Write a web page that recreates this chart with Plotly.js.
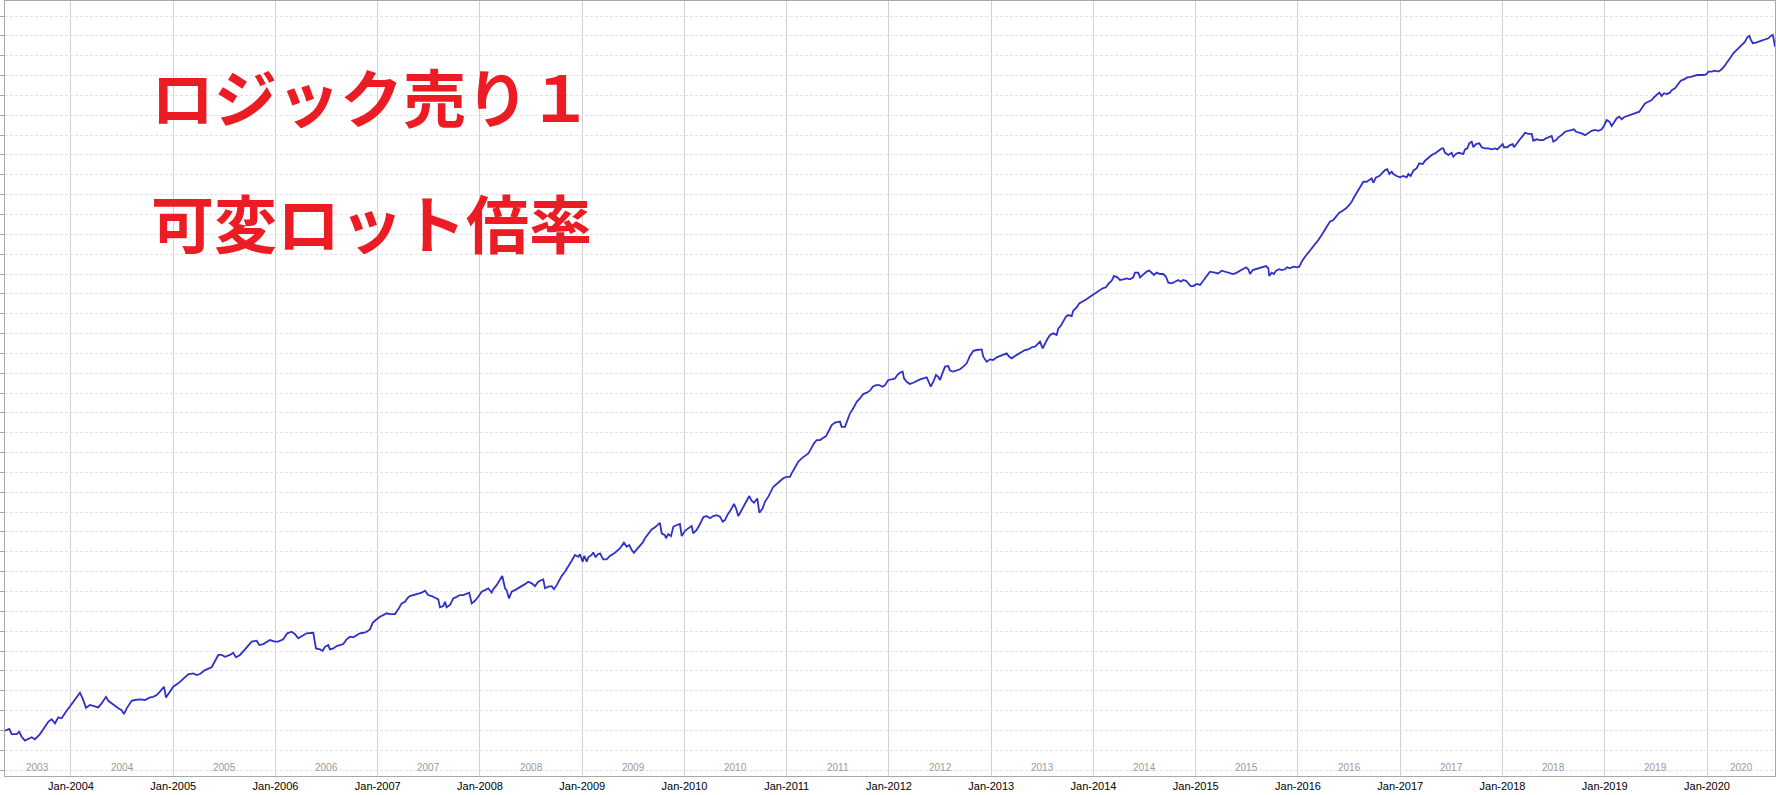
<!DOCTYPE html>
<html>
<head>
<meta charset="utf-8">
<script src="https://cdn.plot.ly/plotly-3.0.1.min.js"></script>
<style>
html,body{margin:0;padding:0;background:#fff;}
#chart{width:1776px;height:795px;}
</style>
</head>
<body>
<div id="chart"></div>
<script>
// Time in decimal years
const t = [
2003.354,2003.397,2003.420,2003.469,2003.494,2003.518,2003.550,2003.582,2003.616,2003.648,
2003.697,2003.746,2003.778,2003.811,2003.844,2003.876,2003.909,2003.941,2003.990,2004.039,
2004.088,2004.114,2004.147,2004.186,2004.235,2004.267,2004.300,2004.342,2004.365,2004.398,
2004.430,2004.463,2004.496,2004.518,2004.545,2004.594,2004.626,2004.675,2004.724,2004.773,
2004.805,2004.838,2004.870,2004.910,2004.929,2004.968,2005.000,2005.049,2005.098,2005.147,
2005.196,2005.229,2005.262,2005.311,2005.376,2005.408,2005.441,2005.474,2005.506,2005.555,
2005.587,2005.614,2005.653,2005.702,2005.744,2005.767,2005.816,2005.842,2005.881,2005.914,
2005.946,2005.995,2006.027,2006.076,2006.115,2006.158,2006.191,2006.223,2006.240,2006.272,
2006.305,2006.370,2006.386,2006.396,2006.435,2006.462,2006.484,2006.516,2006.533,2006.565,
2006.599,2006.631,2006.663,2006.696,2006.729,2006.761,2006.794,2006.826,2006.859,2006.892,
2006.924,2006.951,2006.990,2007.022,2007.054,2007.088,2007.120,2007.169,2007.201,2007.234,
2007.267,2007.289,2007.315,2007.348,2007.397,2007.430,2007.462,2007.494,2007.528,2007.560,
2007.592,2007.609,2007.641,2007.658,2007.674,2007.707,2007.739,2007.772,2007.804,2007.837,
2007.870,2007.895,2007.919,2007.951,2007.983,2008.017,2008.049,2008.081,2008.114,2008.130,
2008.163,2008.196,2008.218,2008.245,2008.261,2008.284,2008.310,2008.342,2008.375,2008.408,
2008.440,2008.472,2008.506,2008.538,2008.570,2008.603,2008.619,2008.636,2008.668,2008.701,
2008.724,2008.750,2008.766,2008.799,2008.831,2008.864,2008.897,2008.929,2008.961,2008.978,
2009.004,2009.020,2009.044,2009.059,2009.092,2009.108,2009.132,2009.151,2009.174,2009.206,
2009.239,2009.271,2009.320,2009.369,2009.408,2009.435,2009.460,2009.484,2009.506,2009.533,
2009.558,2009.591,2009.614,2009.646,2009.679,2009.712,2009.734,2009.760,2009.777,2009.809,
2009.819,2009.842,2009.868,2009.891,2009.924,2009.956,2009.973,2010.005,2010.037,2010.070,
2010.086,2010.119,2010.152,2010.184,2010.217,2010.249,2010.282,2010.315,2010.347,2010.374,
2010.396,2010.419,2010.452,2010.484,2010.504,2010.526,2010.550,2010.575,2010.608,2010.634,
2010.657,2010.680,2010.712,2010.732,2010.765,2010.787,2010.820,2010.843,2010.869,2010.902,
2010.934,2010.966,2010.999,2011.032,2011.048,2011.081,2011.113,2011.146,2011.179,2011.211,
2011.234,2011.267,2011.293,2011.325,2011.352,2011.384,2011.416,2011.440,2011.472,2011.504,
2011.521,2011.537,2011.570,2011.592,2011.619,2011.651,2011.684,2011.716,2011.749,2011.782,
2011.814,2011.841,2011.873,2011.905,2011.938,2011.961,2011.993,2012.027,2012.059,2012.081,
2012.108,2012.134,2012.147,2012.173,2012.205,2012.238,2012.271,2012.303,2012.336,2012.369,
2012.384,2012.408,2012.433,2012.460,2012.482,2012.499,2012.525,2012.548,2012.580,2012.597,
2012.629,2012.662,2012.694,2012.727,2012.760,2012.792,2012.825,2012.858,2012.907,2012.922,
2012.956,2012.988,2013.020,2013.053,2013.086,2013.118,2013.151,2013.177,2013.200,2013.232,
2013.265,2013.298,2013.330,2013.362,2013.396,2013.428,2013.460,2013.477,2013.503,2013.526,
2013.548,2013.575,2013.607,2013.640,2013.656,2013.679,2013.705,2013.731,2013.754,2013.787,
2013.802,2013.836,2013.861,2013.894,2013.927,2013.959,2013.992,2014.025,2014.057,2014.090,
2014.122,2014.145,2014.178,2014.200,2014.233,2014.259,2014.292,2014.325,2014.357,2014.389,
2014.406,2014.438,2014.455,2014.487,2014.520,2014.546,2014.569,2014.592,2014.618,2014.650,
2014.682,2014.709,2014.732,2014.765,2014.797,2014.829,2014.853,2014.878,2014.905,2014.927,
2014.951,2014.976,2015.009,2015.042,2015.074,2015.107,2015.139,2015.188,2015.221,2015.254,
2015.286,2015.335,2015.367,2015.401,2015.433,2015.465,2015.492,2015.514,2015.531,2015.557,
2015.589,2015.622,2015.655,2015.687,2015.710,2015.719,2015.743,2015.765,2015.785,2015.817,
2015.841,2015.873,2015.895,2015.922,2015.954,2015.993,2016.013,2016.036,2016.069,2016.101,
2016.134,2016.166,2016.199,2016.232,2016.254,2016.281,2016.313,2016.345,2016.372,2016.404,
2016.437,2016.470,2016.502,2016.525,2016.548,2016.574,2016.606,2016.639,2016.672,2016.704,
2016.720,2016.736,2016.763,2016.795,2016.828,2016.851,2016.873,2016.893,2016.916,2016.932,
2016.965,2016.998,2017.030,2017.063,2017.079,2017.102,2017.128,2017.161,2017.186,2017.220,
2017.242,2017.275,2017.308,2017.340,2017.372,2017.405,2017.421,2017.438,2017.470,2017.503,
2017.519,2017.545,2017.568,2017.601,2017.617,2017.633,2017.656,2017.675,2017.699,2017.715,
2017.741,2017.773,2017.797,2017.829,2017.861,2017.894,2017.927,2017.949,2017.976,2018.002,
2018.015,2018.047,2018.073,2018.100,2018.113,2018.139,2018.171,2018.198,2018.220,2018.252,
2018.286,2018.301,2018.335,2018.367,2018.399,2018.426,2018.458,2018.481,2018.497,2018.523,
2018.546,2018.579,2018.611,2018.644,2018.677,2018.699,2018.719,2018.751,2018.775,2018.807,
2018.839,2018.872,2018.905,2018.937,2018.970,2018.992,2019.019,2019.045,2019.068,2019.090,
2019.117,2019.142,2019.166,2019.188,2019.221,2019.254,2019.279,2019.313,2019.338,2019.361,
2019.394,2019.426,2019.459,2019.482,2019.508,2019.534,2019.557,2019.580,2019.606,2019.638,
2019.655,2019.687,2019.719,2019.743,2019.775,2019.808,2019.841,2019.873,2019.905,2019.938,
2019.971,2019.997,2020.013,2020.046,2020.078,2020.111,2020.144,2020.166,2020.186,2020.208,
2020.232,2020.257,2020.284,2020.306,2020.339,2020.372,2020.394,2020.414,2020.427,2020.447,
2020.479,2020.512,2020.545,2020.577,2020.600,2020.623,2020.643,2020.655,2020.665
];
// Equity (arbitrary units, one unit per horizontal gridline)
const equity = [
1.98,2.07,1.81,1.81,1.93,1.68,1.48,1.55,1.65,1.55,
1.81,2.18,2.43,2.56,2.35,2.66,2.61,2.86,3.19,3.53,
3.90,3.61,3.14,3.28,3.23,3.16,3.36,3.69,3.49,3.36,
3.23,3.11,3.02,2.82,3.11,3.49,3.53,3.56,3.53,3.66,
3.69,3.78,3.95,4.20,3.66,3.95,4.20,4.37,4.62,4.82,
4.87,4.79,4.84,5.04,5.18,5.46,5.80,5.80,5.71,5.80,
5.91,5.68,5.80,6.08,6.30,6.47,6.52,6.30,6.35,6.47,
6.55,6.47,6.47,6.59,6.89,6.97,6.85,6.64,6.69,6.80,
6.89,6.92,6.39,6.13,6.08,6.01,6.21,6.30,6.08,6.13,
6.25,6.30,6.35,6.59,6.72,6.69,6.80,6.89,6.92,6.97,
7.09,7.42,7.60,7.73,7.81,7.90,7.86,7.86,8.10,8.40,
8.48,8.65,8.77,8.82,8.87,8.94,9.04,8.82,8.77,8.70,
8.60,8.20,8.27,8.48,8.20,8.32,8.65,8.73,8.82,8.82,
8.91,8.94,8.40,8.53,8.73,8.99,9.07,9.16,8.94,9.11,
9.32,9.58,9.78,9.16,9.07,8.65,8.99,9.07,9.16,9.27,
9.37,9.49,9.41,9.27,9.49,9.58,9.61,9.16,9.24,9.27,
9.11,9.32,9.49,9.78,9.99,10.25,10.55,10.84,10.75,10.87,
10.50,10.79,10.50,10.72,10.84,10.97,10.72,10.87,10.92,10.62,
10.62,10.79,10.95,11.17,11.46,11.25,11.34,11.09,10.95,11.12,
11.29,11.46,11.68,11.89,12.13,12.23,12.35,12.46,11.93,11.84,
11.68,11.89,11.79,12.26,12.35,12.40,11.79,12.06,12.18,12.30,
11.93,12.10,12.40,12.74,12.80,12.69,12.80,12.85,12.77,12.52,
12.60,12.85,13.10,13.41,13.19,12.80,13.02,13.27,13.61,13.81,
13.57,13.47,13.69,12.97,13.19,13.52,13.78,14.03,14.28,14.42,
14.58,14.70,14.78,14.78,14.95,15.29,15.54,15.71,15.83,15.96,
16.16,16.47,16.63,16.63,16.72,16.83,17.14,17.39,17.51,17.56,
17.56,17.30,17.30,17.61,17.98,18.23,18.56,18.73,18.95,19.02,
19.12,19.32,19.40,19.40,19.32,19.40,19.66,19.69,19.74,19.91,
20.03,20.08,19.74,19.57,19.46,19.52,19.62,19.69,19.74,19.79,
19.62,19.32,19.57,19.91,19.82,19.66,20.03,20.33,20.36,20.13,
20.08,20.13,20.20,20.33,20.50,20.87,21.13,21.17,21.20,20.83,
20.58,20.70,20.67,20.80,20.87,20.97,21.00,20.83,20.75,20.87,
20.97,21.08,21.17,21.20,21.31,21.34,21.51,21.59,21.25,21.51,
21.71,21.93,22.01,21.93,22.26,22.38,22.65,22.85,22.93,22.88,
23.15,23.32,23.52,23.60,23.72,23.83,23.94,24.06,24.19,24.28,
24.33,24.50,24.66,24.90,24.83,24.70,24.73,24.78,24.73,24.83,
25.07,25.07,24.83,24.95,25.12,25.17,25.07,24.95,25.07,25.00,
25.00,24.86,24.56,24.53,24.61,24.70,24.61,24.70,24.66,24.53,
24.39,24.39,24.50,24.45,24.66,24.90,25.12,25.07,25.03,25.17,
25.12,25.07,25.00,25.07,25.17,25.24,25.34,25.24,25.00,25.20,
25.24,25.29,25.34,25.40,25.29,24.90,25.07,25.00,25.17,25.24,
25.20,25.24,25.34,25.29,25.37,25.34,25.37,25.62,25.87,26.07,
26.29,26.51,26.71,26.97,27.13,27.38,27.64,27.72,27.89,28.09,
28.19,28.31,28.48,28.64,28.87,29.10,29.32,29.65,29.65,29.74,
29.82,29.60,29.87,29.94,30.11,30.24,30.28,30.04,30.16,30.04,
29.94,29.87,29.94,29.87,30.04,29.94,30.21,30.33,30.58,30.54,
30.71,30.88,31.00,31.08,31.21,31.33,31.33,31.11,31.00,31.11,
30.91,31.05,31.11,31.08,31.05,31.28,31.33,31.59,31.67,31.39,
31.55,31.59,31.39,31.33,31.33,31.28,31.33,31.28,31.42,31.55,
31.39,31.39,31.50,31.55,31.39,31.59,31.79,31.96,32.12,32.06,
32.06,31.72,31.79,31.75,31.75,31.84,31.92,31.96,31.67,31.75,
31.89,32.00,32.17,32.22,32.26,32.29,32.17,32.12,32.09,32.00,
32.09,32.22,32.26,32.22,32.29,32.46,32.76,32.68,32.46,32.63,
32.85,32.93,32.80,32.90,32.96,33.01,33.06,33.13,33.18,33.35,
33.60,33.68,33.77,33.91,34.02,34.14,33.97,34.11,34.07,34.14,
34.27,34.36,34.58,34.74,34.81,34.91,34.94,34.98,35.03,35.03,
35.03,35.08,35.20,35.20,35.25,35.20,35.32,35.45,35.58,35.75,
35.92,36.12,36.26,36.38,36.54,36.71,36.93,37.00,36.83,36.63,
36.66,36.71,36.76,36.83,36.88,37.00,37.05,36.76,36.46
];
const tickYears = [2004,2005,2006,2007,2008,2009,2010,2011,2012,2013,2014,2015,2016,2017,2018,2019,2020];
const tickLabels = tickYears.map(y => 'Jan-' + y);
const yearLabels = [2003,2004,2005,2006,2007,2008,2009,2010,2011,2012,2013,2014,2015,2016,2017,2018,2019,2020];
const titleLines = ['ロジック売り１', '可変ロット倍率'];

const xRange = [2003.355, 2020.665];
const yRange = [-0.30, 38.76];

const annotations = yearLabels.map(y => {
  const a = Math.max(y, xRange[0]);
  const b = Math.min(y + 1, xRange[1]);
  return {
    x: (a + b) / 2, xref: 'x', y: 0.0116, yref: 'paper',
    text: String(y), showarrow: false, xanchor: 'center', yanchor: 'middle',
    font: {family: 'Liberation Sans, Arial, sans-serif', size: 10, color: '#9a9a9a'}
  };
});
const titleY = [0.879, 0.717];
titleLines.forEach((txt, i) => {
  annotations.push({
    x: 0.0815, xref: 'paper', y: titleY[i], yref: 'paper',
    text: '<b>' + txt + '</b>', showarrow: false, xanchor: 'left', yanchor: 'middle',
    font: {family: 'Noto Sans CJK JP, sans-serif', size: 63, color: '#ec1c24'}
  });
});

const trace = {
  x: t, y: equity, type: 'scatter', mode: 'lines',
  line: {color: '#3030c6', width: 1.8},
  hoverinfo: 'skip'
};

const layout = {
  width: 1776, height: 795,
  margin: {l: 5, r: 1, t: 1, b: 19, pad: 0},
  paper_bgcolor: '#ffffff', plot_bgcolor: '#ffffff',
  showlegend: false,
  xaxis: {
    range: xRange, type: 'linear',
    tickmode: 'array', tickvals: tickYears, ticktext: tickLabels,
    showgrid: true, gridcolor: '#d2d2d2', gridwidth: 1,
    zeroline: false, showline: true, linecolor: '#a8a8a8', linewidth: 1, mirror: true,
    ticks: '', ticklen: 0,
    tickfont: {family: 'Liberation Sans, Arial, sans-serif', size: 11, color: '#000000'}
  },
  yaxis: {
    range: yRange, tick0: 0, dtick: 1,
    showgrid: true, gridcolor: '#e3e3e3', gridwidth: 1, griddash: '3px,2px',
    zeroline: false, showline: true, linecolor: '#a8a8a8', linewidth: 1, mirror: true,
    ticks: 'outside', ticklen: 4, tickcolor: '#a8a8a8',
    showticklabels: false
  },
  annotations: annotations
};

Plotly.newPlot('chart', [trace], layout, {staticPlot: true, displayModeBar: false});
</script>
</body>
</html>
